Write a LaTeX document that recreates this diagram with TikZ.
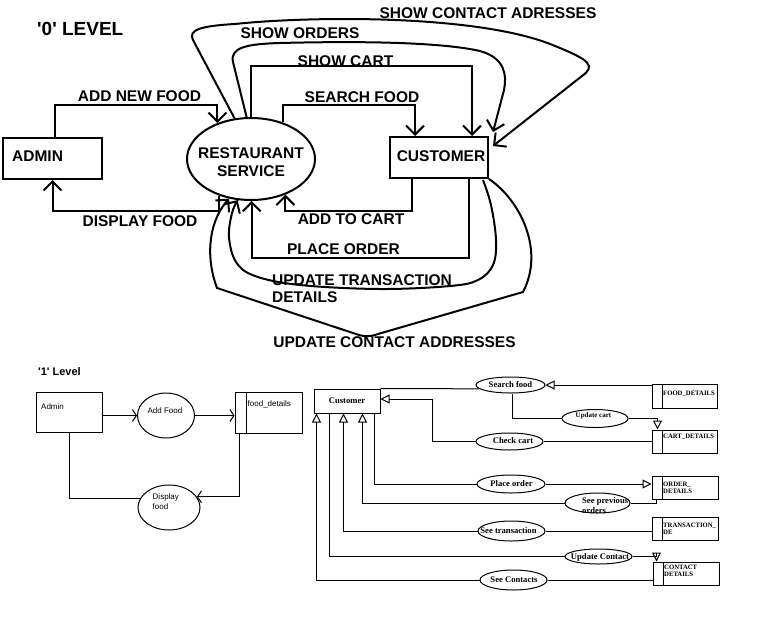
\documentclass[tikz,border=0pt]{standalone}
\usepackage{fontspec}
\setmainfont{Liberation Sans}
\newfontfamily\tnr{Liberation Serif}
\usetikzlibrary{arrows.meta,calc,shapes.geometric}
\begin{document}
\begin{tikzpicture}[x=1pt,y=-1pt,
  f0/.style={font=\fontsize{15.5}{17.5}\selectfont\bfseries, inner sep=0pt},
  ln0/.style={line width=2pt},
  arr0/.style={ln0, -{Straight Barb[length=9pt,width=18pt]}},
  box0/.style={draw, line width=2pt, inner sep=0pt},
  ln1/.style={line width=1pt},
  v1/.style={ln1, -{Straight Barb[length=4pt,width=12pt]}},
  tri/.style={ln1, -{Triangle[open,length=9pt,width=9pt]}},
  box1/.style={draw, line width=1pt, inner sep=0pt},
  ell1/.style={draw, ellipse, line width=1pt, inner sep=0pt},
  store/.style={box1, path picture={\draw[line width=1pt] ([xshift=#1]path picture bounding box.north west) -- ([xshift=#1]path picture bounding box.south west);}},
  t1/.style={font=\fontsize{8}{10}\selectfont, inner sep=0pt},
  t2/.style={font=\tnr\fontsize{8.6}{10}\selectfont\bfseries, inner sep=0pt},
  t3/.style={font=\tnr\fontsize{6.7}{7.2}\selectfont\bfseries, inner sep=0pt, align=left, anchor=west},
]
\useasboundingbox (0,0) rectangle (760,616);
\fill[white] (0,0) rectangle (760,616);

% ---------------- LEVEL 0 ----------------
\node[font=\fontsize{19}{21}\selectfont\bfseries, inner sep=0pt, anchor=west] (lvl0) at (37,28.5) {\textquotesingle0\textquotesingle{} LEVEL};

\node[box0, minimum width=99, minimum height=41] (admin) at (52.5,158.5) {};
\node[f0, anchor=west] (admint) at (12,156.5) {ADMIN};
\node[box0, minimum width=98, minimum height=41] (cust) at (439,157.5) {};
\node[f0] (custt) at (441,156) {CUSTOMER};
\node[draw, ellipse, line width=2pt, inner sep=0pt, minimum width=128, minimum height=82] (rs) at (251,159) {};
\node[f0, align=center, font=\fontsize{15.5}{18}\selectfont\bfseries] (rst) at (251,162) {RESTAURANT\\SERVICE};

% connectors
\draw[arr0] ($(admin.north)+(2,0)$) |- ($(rs.133)+(0,-18)$) -- (rs.133);
\draw[arr0] (rs.229.2) -- ($(rs.229.2)+(0,15)$) -| (admin.south);
\draw[arr0] (rs.49.2) |- ($(cust.north west)+(26,-31)$) -- ($(cust.north west)+(26,0)$);
\draw[arr0] (rs.90) |- ($(cust.north west)+(83,-70)$) -- ($(cust.north west)+(83,0)$);
\draw[arr0] (rs.96) -- (233,62) .. controls (230,48) and (245,44) .. (280,43)
   .. controls (360,41) and (440,42) .. (480,51) .. controls (505,58) and (507,75) .. (504,90)
   -- ($(cust.north east)+(4,-4)$);
\draw[arr0] (rs.112) -- (193,40) .. controls (188,30) and (200,26) .. (235,24)
   .. controls (310,16) and (480,14) .. (555,46) .. controls (590,60) and (596,66) .. (582,76)
   -- ($(cust.north east)+(4,10)$);
\draw[arr0] ($(cust.south west)+(23,0)$) |- ($(rs.314.4)+(0,16)$) -- (rs.314.4);
\draw[arr0] ($(cust.south west)+(80,0)$) |- ($(rs.271)+(0,57)$) -- (rs.271);
\coordinate (ut0) at ($(cust.south east)+(-6,1)$);
\coordinate (ut1) at (rs.252);
\draw[arr0] plot[smooth, tension=0.6] coordinates {(ut0) (491,205) (496,240) (493,265) (478,280) (450,286) (380,289) (300,285) (255,276) (236,262) (229,237) (232,213) (ut1)};
\draw[arr0] (cust.south east) .. controls (520,200) and (545,250) .. (523,292) -- (378,334)
   .. controls (370,337) and (364,337) .. (356,334) -- (217,288)
   .. controls (207,262) and (206,225) .. (rs.241.5);

% labels
\node[f0] (lanf) at (139.5,96) {ADD NEW FOOD};
\node[f0] (ldf) at (140,221) {DISPLAY FOOD};
\node[f0] (lsc) at (345.5,61) {SHOW CART};
\node[f0] (lsf) at (362,97.5) {SEARCH FOOD};
\node[f0] (lso) at (300,33.5) {SHOW ORDERS};
\node[f0] (lsca) at (488,13) {SHOW CONTACT ADRESSES};
\node[f0] (latc) at (351,219) {ADD TO CART};
\node[f0] (lpo) at (343.5,249) {PLACE ORDER};
\node[f0, align=left, anchor=west] (lut) at (272,288.75) {UPDATE TRANSACTION\\DETAILS};
\node[f0] (luca) at (394.5,342.5) {UPDATE CONTACT ADDRESSES};

% ---------------- LEVEL 1 : admin ----------------
\node[font=\fontsize{11}{13}\selectfont\bfseries, inner sep=0pt, anchor=west] (lvl1) at (38,372) {\textquotesingle1\textquotesingle{} Level};

\node[box1, minimum width=66, minimum height=40] (adm) at (69,412) {};
\node[t1, anchor=west] (admt) at (41,407) {Admin};
\node[ell1, minimum width=57, minimum height=45] (af) at (166,415.5) {};
\node[t1] (aft) at (165,411) {Add Food};
\node[store=11pt, minimum width=67, minimum height=41] (fd) at (268.5,412.5) {};
\node[t1, anchor=west] (fdt) at (247.5,404) {food\_details};
\node[ell1, minimum width=62, minimum height=45] (df) at (169,507.5) {};
\node[t1, align=left, anchor=west] (dft) at (152.5,501.5) {Display\\food};

\draw[v1] (adm.east |- af.west) -- (af.west);
\draw[v1] (af.east) -- (af.east -| fd.west);
\draw[v1] ($(fd.south west)+(5,0)$) |- (df.21);
\draw[ln1] (adm.south) |- (df.163.5);

% ---------------- LEVEL 1 : customer ----------------
\node[box1, minimum width=66, minimum height=24] (c1) at (347,401) {};
\node[t2] (c1t) at (347,400.5) {Customer};

\node[ell1, minimum width=69, minimum height=16] (sf) at (510.5,385) {};
\node[t2] (sft) at (510.5,384.5) {Search food};
\node[ell1, minimum width=66, minimum height=18] (uc) at (595,418.5) {};
\node[t2, font=\tnr\fontsize{7}{8}\selectfont\bfseries] (uct) at (593.5,416) {Update cart};
\node[ell1, minimum width=67, minimum height=17] (cc) at (509.5,441.5) {};
\node[t2] (cct) at (513,441) {Check cart};
\node[ell1, minimum width=68, minimum height=18] (po) at (511,484) {};
\node[t2] (pot) at (511.5,484) {Place order};
\node[ell1, minimum width=65, minimum height=20] (sp) at (597.5,503) {};
\node[t2, align=left, anchor=west, font=\tnr\fontsize{8.6}{9.5}\selectfont\bfseries] (spt) at (582,505.5) {See previous\\orders};
\node[ell1, minimum width=67, minimum height=20] (st) at (511.5,531) {};
\node[t2] (stt) at (508.5,531) {See transaction};
\node[ell1, minimum width=67, minimum height=15] (ucon) at (598.5,556.5) {};
\node[t2] (ucont) at (600,557) {Update Contact};
\node[ell1, minimum width=67, minimum height=20] (sc) at (513.5,580) {};
\node[t2] (sct) at (514,580) {See Contacts};

\node[store=10pt, minimum width=65, minimum height=24] (fdd) at (684.5,396.5) {};
\node[t3] (fddt) at (663,393.5) {FOOD\_DETAILS};
\node[store=10pt, minimum width=65, minimum height=23] (cd) at (684.5,441.5) {};
\node[t3] (cdt) at (663,436.5) {CART\_DETAILS};
\node[store=10pt, minimum width=66, minimum height=23] (od) at (685,487.5) {};
\node[t3] (odt) at (663,488) {ORDER\_\\DETAILS};
\node[store=10pt, minimum width=66, minimum height=23] (td) at (685,528.5) {};
\node[t3] (tdt) at (663,529) {TRANSACTION\_\\DE};
\node[store=10pt, minimum width=66, minimum height=23] (cod) at (686,573.5) {};
\node[t3] (codt) at (664,571) {CONTACT\\DETAILS};

\draw[ln1] (c1.north east) -- (sf.187.6);
\draw[tri] (fdd.west |- sf.east) -- (sf.east);
\draw[ln1] ($(sf.south)+(2,0)$) |- (uc.west);
\draw[tri] (uc.east) -| ($(cd.north west)+(6,0)$);
\draw[tri] (cc.west) -| ($(c1.east)+(52,-2)$) -- ($(c1.east)+(0,-2)$);
\draw[ln1] (cd.west |- cc.east) -- (cc.east);
\draw[ln1] ($(c1.south east)+(-6,0)$) |- (po.west);
\draw[tri] (po.east) -- (po.east -| od.west);
\draw[ln1] ($(od.south west)+(5,0)$) |- (sp.east);
\draw[tri] (sp.west) -| ($(c1.south west)+(49,0)$);
\draw[ln1] (td.west |- st.east) -- (st.east);
\draw[tri] (st.west) -| ($(c1.south west)+(30,0)$);
\draw[ln1] ($(c1.south west)+(16,0)$) |- (ucon.west);
\draw[tri] (ucon.east) -| ($(cod.north west)+(4,0)$);
\draw[ln1] (cod.west |- sc.east) -- (sc.east);
\draw[tri] (sc.west) -| ($(c1.south west)+(3,0)$);
\end{tikzpicture}
\end{document}
